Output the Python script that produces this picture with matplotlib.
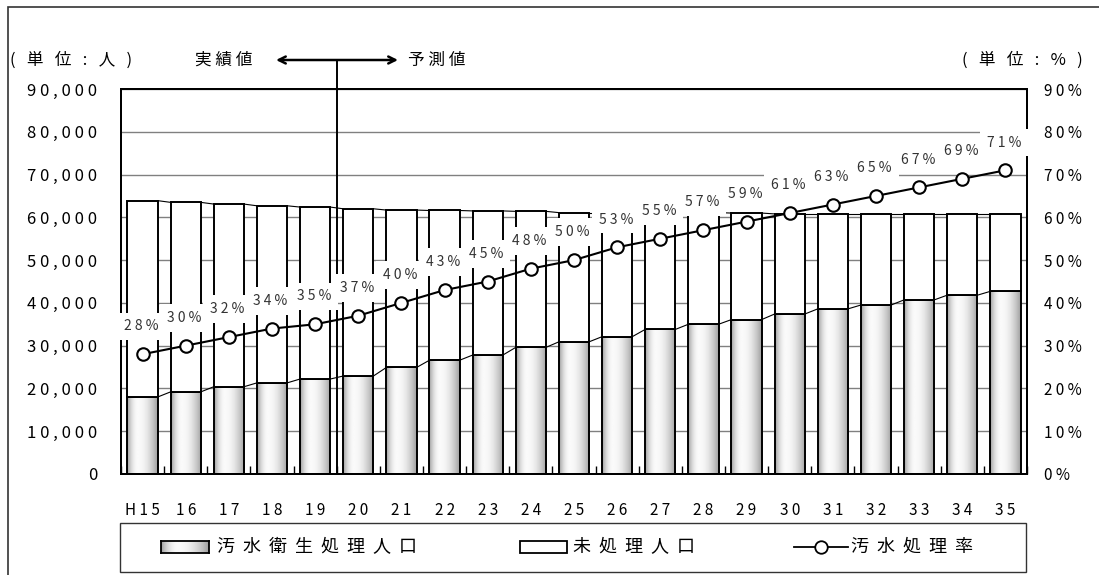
"""Sewage treatment population chart (H15-H35)."""

import matplotlib

matplotlib.use("Agg")
import matplotlib.pyplot as plt
import numpy as np
from matplotlib.patches import Rectangle
from matplotlib.lines import Line2D

plt.rcParams["font.family"] = ["Noto Sans CJK JP", "DejaVu Sans"]

years = ["H15", "16", "17", "18", "19", "20", "21", "22", "23", "24", "25",
         "26", "27", "28", "29", "30", "31", "32", "33", "34", "35"]
treated = [18000, 19200, 20400, 21300, 22200, 22900, 24900, 26600, 27800, 29600, 30900,
           32100, 33800, 35000, 36100, 37400, 38600, 39500, 40700, 41800, 42700]
total = [63900, 63500, 63100, 62700, 62400, 62000, 61700, 61600, 61500, 61400, 61100,
         61100, 61100, 61100, 61000, 60800, 60800, 60800, 60800, 60800, 60800]
untreated = [t - s for t, s in zip(total, treated)]
rate = [28, 30, 32, 34, 35, 37, 40, 43, 45, 48, 50, 53, 55, 57, 59, 61, 63, 65, 67, 69, 71]
left_ticks = list(range(0, 90001, 10000))
right_ticks = list(range(0, 91, 10))


def spaced(s, sep=" "):
    return sep.join(s)


def gradient():
    x = np.linspace(0, 1, 64)
    peak = 0.35
    g = np.where(x < peak, ((peak - x) / peak) ** 2, ((x - peak) / (1 - peak)) ** 2)
    return (0.98 - 0.36 * g).reshape(1, -1)


W, H = 1099, 575
fig = plt.figure(figsize=(W / 100, H / 100), dpi=100)
ax = fig.add_axes([121 / W, 1 - 474 / H, (1027 - 121) / W, (474 - 89) / H])
ax2 = ax.twinx()

x = np.arange(len(years))
width = 0.7
grad = gradient()

bars_t = ax.bar(x, treated, width, facecolor="none", edgecolor="black", lw=1.4, zorder=3)
bars_u = ax.bar(x, untreated, width, bottom=treated, facecolor="white",
                edgecolor="black", lw=1.4, zorder=3)
for b in bars_t:
    x0, y0 = b.get_x(), b.get_y()
    im = ax.imshow(grad, cmap="gray", vmin=0, vmax=1, aspect="auto", zorder=2.5,
                   extent=[x0, x0 + b.get_width(), y0, y0 + b.get_height()])
    im.set_clip_path(b)

# series lines between bar tops
for i in range(len(x) - 1):
    ax.plot([x[i] + width / 2, x[i + 1] - width / 2], [treated[i], treated[i + 1]],
            color="black", lw=0.8, zorder=3)
    ax.plot([x[i] + width / 2, x[i + 1] - width / 2], [total[i], total[i + 1]],
            color="black", lw=0.8, zorder=3)

ax.set_xlim(-0.5, len(x) - 0.5)
ax.set_ylim(0, 90000)
ax.set_yticks(left_ticks)
ax.set_yticklabels([spaced(f"{v:,}") for v in left_ticks], fontsize=12)
ax.yaxis.grid(True, color="#808080", lw=1)
ax.set_axisbelow(True)
ax.set_xticks(x)
ax.set_xticklabels([spaced(y) for y in years], fontsize=11)
ax.set_xticks(np.arange(-0.5, len(x)), minor=True)
ax.tick_params(axis="x", which="major", length=0, pad=20)
ax.tick_params(axis="x", which="minor", length=6, direction="in", width=1)
ax.tick_params(axis="y", length=0, pad=17)

ax2.set_ylim(0, 90)
ax2.set_yticks(right_ticks)
ax2.set_yticklabels([spaced(f"{v}%") for v in right_ticks], fontsize=11)
ax2.tick_params(axis="y", length=0, pad=12)
ax2.plot(x, rate, color="black", lw=1.5, marker="o", markersize=9,
         markerfacecolor="white", markeredgecolor="black", markeredgewidth=1.5, zorder=5)
for xi, r in zip(x, rate):
    ax2.annotate(spaced(f"{r}%"), (xi, r), xytext=(-1, 20), textcoords="offset points",
                 ha="center", va="center", fontsize=10, color="#333333", zorder=4,
                 bbox=dict(boxstyle="square,pad=0.5", fc="white", ec="none"))

for a in (ax, ax2):
    for s in a.spines.values():
        s.set_linewidth(1.4)

# actual / forecast divider
ax.plot([4.5, 4.5], [0, (474 - 60) / 385], transform=ax.get_xaxis_transform(),
        color="black", lw=1.4, clip_on=False, zorder=6)
fy = 1 - 60 / H
ax.annotate("", xy=(276 / W, fy), xytext=(398 / W, fy), xycoords="figure fraction",
            arrowprops=dict(arrowstyle="<->,head_length=0.5,head_width=0.25",
                            color="black", lw=1.8, shrinkA=0, shrinkB=0))
fig.text(224 / W, fy, spaced("実績値"), fontsize=12, ha="center", va="center")
fig.text(437 / W, fy, spaced("予測値"), fontsize=12, ha="center", va="center")
fig.text(10 / W, fy, spaced("(単位:人)", "   "), fontsize=12, ha="left", va="center")
fig.text(1083 / W, fy, spaced("(単位:%)", "   "), fontsize=12, ha="right", va="center")

# outer frame
fig.add_artist(Rectangle((8 / W, -0.02), 1.05, 1 - 7 / H + 0.02, transform=fig.transFigure,
                         fill=False, ec="#333333", lw=1.2))

# legend box
fig.add_artist(Rectangle((120 / W, 1 - 572 / H), (1026 - 120) / W, 49 / H,
                         transform=fig.transFigure, fill=False, ec="#333333", lw=1.0))
ly = 1 - 547 / H
lax = fig.add_axes([161 / W, 1 - 553 / H, 48 / W, 12 / H])
lax.imshow(grad, cmap="gray", vmin=0, vmax=1, aspect="auto")
lax.set_xticks([])
lax.set_yticks([])
for s in lax.spines.values():
    s.set_linewidth(1.3)
fig.add_artist(Rectangle((520 / W, 1 - 553 / H), 47 / W, 12 / H, transform=fig.transFigure,
                         fc="white", ec="black", lw=1.3))
fig.add_artist(Line2D([794 / W, 848 / W], [ly, ly], transform=fig.transFigure, color="black",
                      lw=1.3))
fig.add_artist(Line2D([821 / W], [ly], transform=fig.transFigure, color="black",
                      marker="o", markersize=9, markerfacecolor="white",
                      markeredgewidth=1.3, lw=0))
fig.text(217 / W, ly, spaced("汚水衛生処理人口", "  "), fontsize=13, ha="left", va="center")
fig.text(573 / W, ly, spaced("未処理人口", "  "), fontsize=13, ha="left", va="center")
fig.text(851 / W, ly, spaced("汚水処理率", "  "), fontsize=13, ha="left", va="center")

fig.savefig("out.png", dpi=100)
